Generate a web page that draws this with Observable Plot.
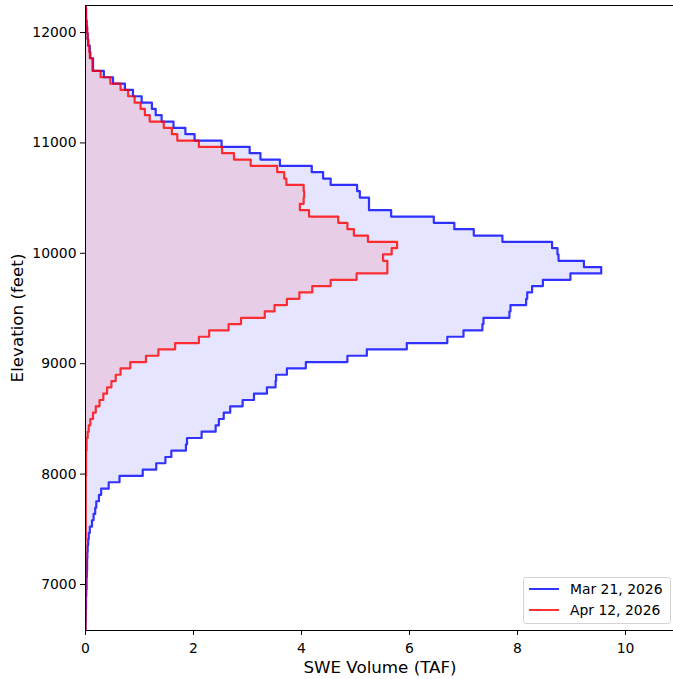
<!DOCTYPE html>
<html><head><meta charset="utf-8">
<script src="https://cdn.jsdelivr.net/npm/d3@7"></script>
<script src="https://cdn.jsdelivr.net/npm/@observablehq/plot@0.6"></script>
<style>
html,body{margin:0;padding:0;background:#fff;overflow:hidden;}
#wrap{position:relative;width:673px;height:679px;overflow:hidden;font-family:"DejaVu Sans",sans-serif;}
#wrap svg{max-width:none !important;}
#legend{position:absolute;left:523px;top:577px;width:146px;height:45px;border:1px solid #d4d4d4;border-radius:3px;background:rgba(255,255,255,0.8);font-size:13.9px;color:#000;}
.item{position:absolute;left:5px;height:20px;display:flex;align-items:center;white-space:nowrap;}
.swatch{width:30px;height:2px;margin-right:11px;}
</style></head><body><div id="wrap"><div id="legend"></div></div>
<script>
// Elevation bin edges (feet)
const elevEdges = [6550,6607,6665,6722,6779,6837,6894,6951,7009,7066,7123,7181,7238,7295,7353,7410,7467,7524,7582,7639,
7696,7754,7811,7868,7926,7983,8040,8098,8155,8212,8270,8327,8384,8442,8499,8556,8614,8671,8728,8786,
8843,8900,8958,9015,9072,9130,9187,9244,9302,9359,9416,9474,9531,9588,9646,9703,9760,9818,9875,9932,
9990,10047,10104,10161,10219,10276,10333,10391,10448,10505,10563,10620,10677,10735,10792,10849,10907,10964,11021,11079,
11136,11193,11251,11308,11365,11423,11480,11537,11595,11652,11709,11767,11824,11881,11939,11996,12053,12111,12168,12225,12283];

// SWE volume (TAF) per elevation bin
const sweMar21 = [0,0,0.005,0.005,0.01,0.01,0.015,0.02,0.02,0.025,
0.03,0.03,0.035,0.04,0.05,0.06,0.08,0.12,0.15,0.18,
0.20,0.25,0.29,0.43,0.63,1.06,1.31,1.48,1.59,1.86,
1.88,2.15,2.41,2.47,2.56,2.68,2.91,3.12,3.36,3.52,
3.53,3.73,4.08,4.85,5.21,5.95,6.70,7.00,7.35,7.37,
7.85,7.87,8.16,8.18,8.27,8.47,8.98,9.55,9.23,8.76,
8.74,8.64,7.72,7.19,6.83,6.45,5.66,5.25,5.25,5.08,
5.03,4.54,4.40,4.19,3.60,3.24,3.04,2.52,2.02,1.85,
1.63,1.41,1.30,1.23,1.04,0.88,0.73,0.51,0.34,0.14,
0.14,0.09,0.08,0.05,0.04,0.03,0.02,0.01,0.01,0.005];

const sweApr12 = [0,0,0,0,0,0,0,0,0,0,
0,0,0,0,0,0.005,0.005,0.005,0.005,0.005,
0.005,0.005,0.005,0.005,0.005,0.01,0.01,0.01,0.01,0.02,
0.02,0.04,0.06,0.09,0.14,0.19,0.26,0.33,0.40,0.48,
0.56,0.65,0.83,1.12,1.35,1.66,2.10,2.29,2.65,2.88,
3.32,3.50,3.73,3.96,4.20,4.54,5.02,5.59,5.59,5.51,
5.67,5.77,5.23,4.97,4.85,4.68,4.14,3.97,4.04,4.05,
4.04,3.72,3.68,3.55,3.06,2.75,2.53,2.10,1.70,1.60,
1.45,1.19,1.10,1.02,0.91,0.79,0.65,0.46,0.28,0.13,
0.13,0.08,0.07,0.05,0.04,0.03,0.02,0.01,0.01,0.005];

const seriesLabels = ["Mar 21, 2026", "Apr 12, 2026"];
const seriesColors = ["blue", "red"];
const xTicks = [0, 2, 4, 6, 8, 10];
const yTicks = [7000, 8000, 9000, 10000, 11000, 12000];
const xDomain = [0, 10.907];
const yDomain = [6583, 12245];

function stepPoints(values) {
  const pts = [];
  values.forEach((v, k) => {
    pts.push({x: v, y: elevEdges[k]});
    pts.push({x: v, y: elevEdges[k + 1]});
  });
  return pts;
}
const marPts = stepPoints(sweMar21);
const aprPts = stepPoints(sweApr12);

const plot = Plot.plot({
  width: 676, height: 679,
  marginLeft: 85, marginRight: 2, marginTop: 5, marginBottom: 49,
  style: {fontFamily: "DejaVu Sans", fontSize: "13.9px", color: "black", background: "white", overflow: "visible", maxWidth: "none"},
  x: {domain: xDomain},
  y: {domain: yDomain},
  marks: [
    Plot.areaX(marPts, {x1: 0, x2: "x", y: "y", fill: seriesColors[0], fillOpacity: 0.1, clip: true}),
    Plot.areaX(aprPts, {x1: 0, x2: "x", y: "y", fill: seriesColors[1], fillOpacity: 0.1, clip: true}),
    Plot.line(marPts, {x: "x", y: "y", stroke: seriesColors[0], strokeOpacity: 0.8, strokeWidth: 2.2, clip: true}),
    Plot.line(aprPts, {x: "x", y: "y", stroke: seriesColors[1], strokeOpacity: 0.8, strokeWidth: 2.2, clip: true}),
    Plot.frame({stroke: "black"}),
    Plot.axisX({ticks: xTicks, tickSize: 5, tickPadding: 8, label: null}),
    Plot.axisY({ticks: yTicks, tickFormat: d => String(d), tickSize: 5, tickPadding: 4, label: null}),
    Plot.text(["SWE Volume (TAF)"], {frameAnchor: "bottom", dy: 37, lineAnchor: "middle", textAnchor: "middle", fontSize: 16.7, fill: "black"}),
    Plot.text(["Elevation (feet)"], {frameAnchor: "left", dx: -68, rotate: -90, lineAnchor: "middle", textAnchor: "middle", fontSize: 16.7, fill: "black"})
  ]
});
const wrap = document.getElementById("wrap");
wrap.insertBefore(plot, wrap.firstChild);

const legend = document.getElementById("legend");
seriesLabels.forEach((lab, i) => {
  const it = document.createElement("div");
  it.className = "item";
  it.style.top = (1 + i * 21) + "px";
  const sw = document.createElement("div");
  sw.className = "swatch";
  sw.style.background = seriesColors[i];
  sw.style.opacity = 0.8;
  const tx = document.createElement("span");
  tx.textContent = lab;
  it.appendChild(sw); it.appendChild(tx);
  legend.appendChild(it);
});
</script></body></html>
